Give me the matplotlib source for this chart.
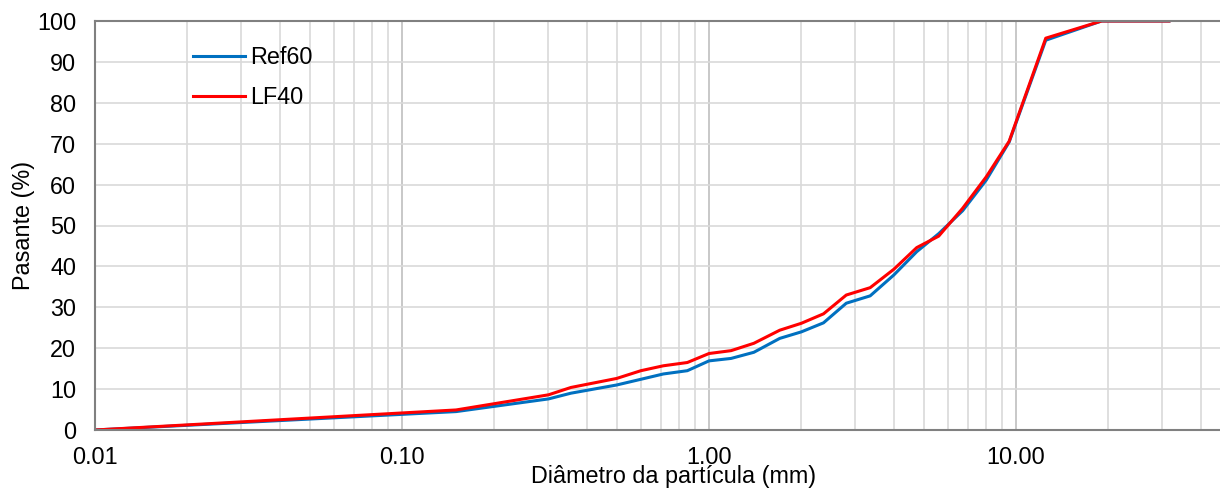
import matplotlib
matplotlib.use('Agg')
import matplotlib.pyplot as plt
from matplotlib.ticker import FixedLocator, FuncFormatter, LogLocator, NullFormatter

# dados da curva granulometrica
diametro = [0.01, 0.15, 0.30, 0.355, 0.50, 0.60, 0.71, 0.85, 1.00, 1.18, 1.40, 1.70,
            2.00, 2.36, 2.80, 3.35, 4.00, 4.75, 5.60, 6.70, 8.00, 9.50, 12.5, 19.0, 31.5]
ref60 = [0.0, 4.5, 7.6, 9.0, 11.0, 12.4, 13.7, 14.5, 16.9, 17.5, 19.0, 22.4,
         24.0, 26.2, 31.0, 32.8, 37.9, 43.6, 48.0, 53.6, 61.1, 70.4, 95.3, 100.0, 100.0]
lf40 = [0.0, 4.9, 8.6, 10.4, 12.6, 14.5, 15.7, 16.5, 18.7, 19.4, 21.2, 24.4,
        26.1, 28.4, 33.0, 34.8, 39.3, 44.6, 47.4, 54.2, 61.9, 70.6, 95.8, 100.0, 100.0]
x_ticks = [0.01, 0.1, 1, 10]
y_ticks = list(range(0, 101, 10))

plt.rcParams['font.family'] = ['Liberation Sans', 'DejaVu Sans']
fs = 16.8

fig = plt.figure(figsize=(12.2, 4.93), dpi=100)
ax = fig.add_axes([95/1220, 1-430/493, 1-95/1220, (430-21)/493])

ax.plot(diametro, ref60, color='#0070C0', lw=2.2, label='Ref60')
ax.plot(diametro, lf40, color='#FF0000', lw=2.2, label='LF40')

ax.set_xscale('log')
ax.set_xlim(0.01, 10**(1+(1220-1016)/307))
ax.set_ylim(0, 100)
ax.xaxis.set_major_locator(FixedLocator(x_ticks))
ax.xaxis.set_major_formatter(FuncFormatter(lambda v, p: '{:.2f}'.format(v)))
ax.xaxis.set_minor_locator(LogLocator(base=10, subs=range(2, 10)))
ax.xaxis.set_minor_formatter(NullFormatter())
ax.set_yticks(y_ticks)

ax.grid(True, which='minor', axis='x', color='#D9D9D9', lw=1.2)
ax.grid(True, which='major', axis='x', color='#BFBFBF', lw=1.2)
ax.grid(True, which='major', axis='y', color='#D9D9D9', lw=1.2)
ax.set_axisbelow(True)

ax.tick_params(which='both', length=0)
ax.tick_params(axis='x', pad=11.5, labelsize=fs)
ax.tick_params(axis='y', pad=13.5, labelsize=fs)

for s in ['left', 'bottom', 'top']:
    ax.spines[s].set_color('#808080')
    ax.spines[s].set_linewidth(1.5)
ax.spines['right'].set_visible(False)

ax.set_xlabel('Diâmetro da partícula (mm)', fontsize=fs)
ax.xaxis.set_label_coords((674-95)/1125, (430-465)/409)
ax.set_ylabel('Pasante (%)', fontsize=fs)
ax.yaxis.set_label_coords((35-95)/1125, 0.5)

ax.legend(loc='upper left', bbox_to_anchor=(193/1220, 1-46/493), bbox_transform=fig.transFigure,
          frameon=False, fontsize=fs, handlelength=2.23, handletextpad=0.2,
          labelspacing=0.75, borderpad=0, borderaxespad=0)

fig.savefig('out.png', dpi=100)
